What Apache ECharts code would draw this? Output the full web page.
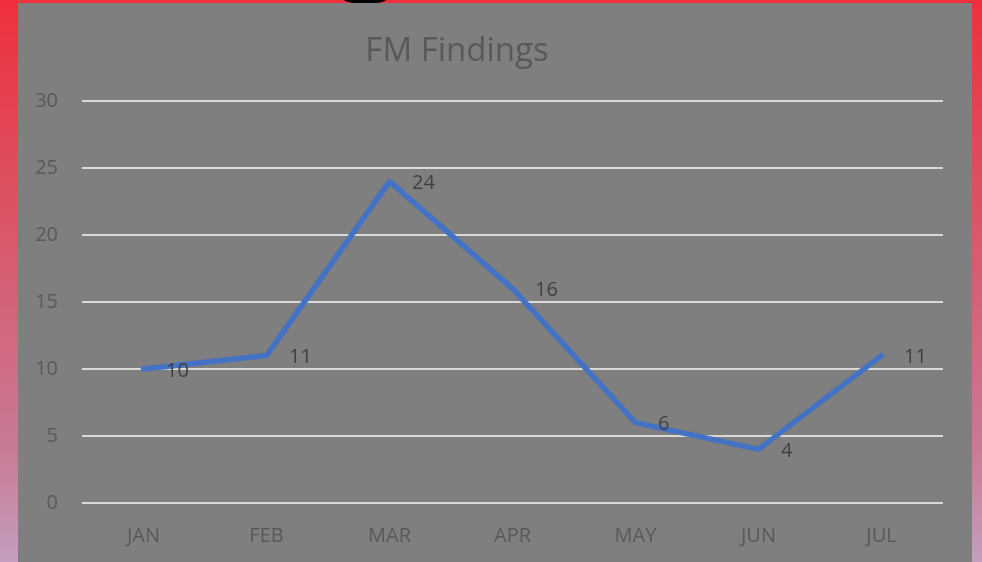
<!DOCTYPE html>
<html>
<head>
<meta charset="utf-8">
<script src="https://cdn.jsdelivr.net/npm/echarts@6/dist/echarts.min.js"></script>
<style>
  html, body { margin: 0; padding: 0; width: 982px; height: 562px; overflow: hidden; }
  body { background: linear-gradient(to bottom, #f0303c 0%, #e04a5a 27%, #c87a95 80%, #c49ebe 100%); position: relative; }
  #blob { position: absolute; left: 340px; top: -12px; width: 50px; height: 16px; background: #000; border-radius: 25px / 8px; }
  #chart { position: absolute; left: 18px; top: 3px; width: 954px; height: 559px; background: #7f7f7f; }
</style>
</head>
<body>
<div id="blob"></div>
<div id="chart"></div>
<script>
const categories = ['JAN', 'FEB', 'MAR', 'APR', 'MAY', 'JUN', 'JUL'];
const findings = [10, 11, 24, 16, 6, 4, 11];
const titleText = 'FM Findings';

const chart = echarts.init(document.getElementById('chart'), null, { renderer: 'canvas' });
const font = '"Open Sans", sans-serif';
chart.setOption({
  backgroundColor: '#7f7f7f',
  animation: false,
  title: {
    text: titleText,
    left: 434,
    top: 27,
    textAlign: 'center',
    textStyle: { color: '#595959', fontSize: 33, fontWeight: 'normal', fontFamily: font }
  },
  grid: { left: 64, right: 29, top: 98, bottom: 59, containLabel: false },
  xAxis: {
    type: 'category',
    data: categories,
    boundaryGap: true,
    axisLine: { show: false },
    axisTick: { show: false },
    axisLabel: { color: '#595959', fontSize: 20, fontFamily: font, margin: 23 }
  },
  yAxis: {
    type: 'value',
    min: 0,
    max: 30,
    interval: 5,
    axisLine: { show: false },
    axisTick: { show: false },
    axisLabel: { color: '#595959', fontSize: 20, fontFamily: font, margin: 24 },
    splitLine: { lineStyle: { color: '#d9d9d9', width: 2 } }
  },
  series: [{
    type: 'line',
    data: findings,
    symbol: 'circle',
    symbolSize: 1,
    showSymbol: true,
    itemStyle: { color: 'rgba(0,0,0,0)', borderWidth: 0 },
    lineStyle: { color: '#4472c4', width: 5.5, join: 'round', cap: 'round' },
    label: {
      show: true,
      position: 'right',
      distance: 22,
      offset: [0, 2],
      color: '#404040',
      fontSize: 20,
      fontFamily: font
    }
  }]
});
</script>
</body>
</html>
